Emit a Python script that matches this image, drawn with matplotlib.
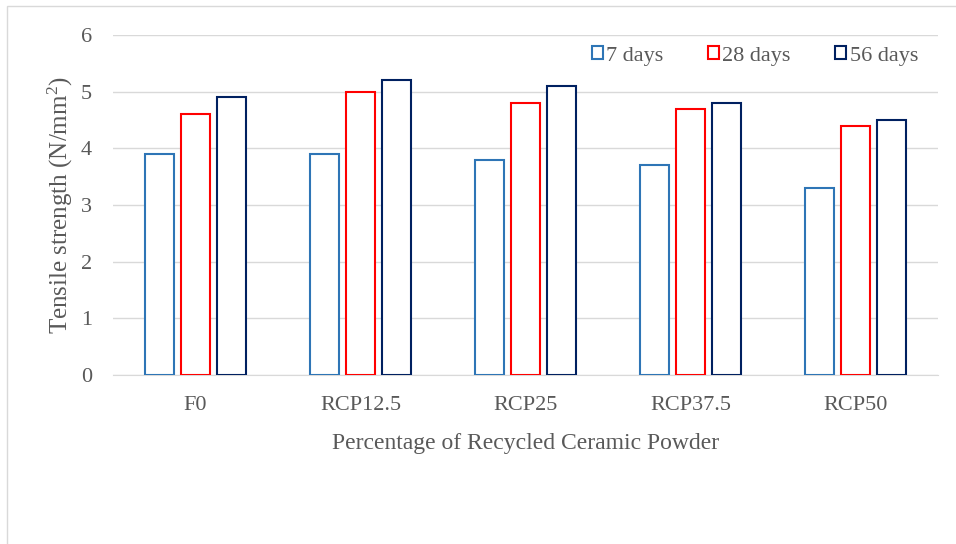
import matplotlib
matplotlib.use("Agg")
import matplotlib.pyplot as plt
import numpy as np
from matplotlib.patches import Rectangle

# data
categories = ["F0", "RCP12.5", "RCP25", "RCP37.5", "RCP50"]
days_7 = [3.9, 3.9, 3.8, 3.7, 3.3]
days_28 = [4.6, 5.0, 4.8, 4.7, 4.4]
days_56 = [4.9, 5.2, 5.1, 4.8, 4.5]
series_labels = ["7 days", "28 days", "56 days"]
colors = ["#2E75B6", "#FF0000", "#002060"]

plt.rcParams["font.family"] = ["Liberation Serif", "DejaVu Serif"]
plt.rcParams["mathtext.fontset"] = "custom"
plt.rcParams["mathtext.rm"] = "Liberation Serif"
grey = "#595959"

fig = plt.figure(figsize=(9.56, 5.44), dpi=100)
ax = fig.add_axes([113 / 956, 1 - 375 / 544, 825 / 956, 340 / 544])

x = np.arange(len(categories))
width = 0.176
offset = 0.218
for i, vals in enumerate([days_7, days_28, days_56]):
    ax.bar(x + (i - 1) * offset, vals, width, facecolor="white",
           edgecolor=colors[i], linewidth=1.5, zorder=3)

ax.set_xlim(-0.5, 4.5)
ax.set_ylim(0, 6)
ax.set_yticks(range(0, 7))
ax.set_xticks(x)
ax.set_xticklabels(categories)
ax.grid(axis="y", color="#D9D9D9", linewidth=1)
ax.set_axisbelow(True)
for s in ["top", "right", "left"]:
    ax.spines[s].set_visible(False)
ax.spines["bottom"].set_color("#D9D9D9")
ax.tick_params(axis="both", length=0, colors=grey, labelsize=16)
ax.tick_params(axis="y", pad=15)
ax.tick_params(axis="x", pad=15)

ax.set_ylabel("Tensile strength (N/mm$\\mathregular{^2}$)", color=grey, fontsize=18, labelpad=4)
ax.set_xlabel("Percentage of Recycled Ceramic Powder", color=grey, fontsize=17, labelpad=13)

handles = [Rectangle((0, 0), 1, 1, facecolor="white", edgecolor=c, linewidth=1.5)
           for c in colors]
leg = ax.legend(handles, series_labels, loc="upper right", ncol=3, frameon=False,
                fontsize=16, handlelength=0.5, handleheight=0.5, handletextpad=0.15,
                columnspacing=2.0, bbox_to_anchor=(1.0, 1.025))
for t in leg.get_texts():
    t.set_color(grey)

# outer chart border (left and top visible)
fig.add_artist(Rectangle((7 / 956, -0.1), 1.1, 1 - 6 / 544 + 0.1,
                         transform=fig.transFigure, fill=False,
                         edgecolor="#D9D9D9", linewidth=1))

fig.savefig("out.png", dpi=100)
